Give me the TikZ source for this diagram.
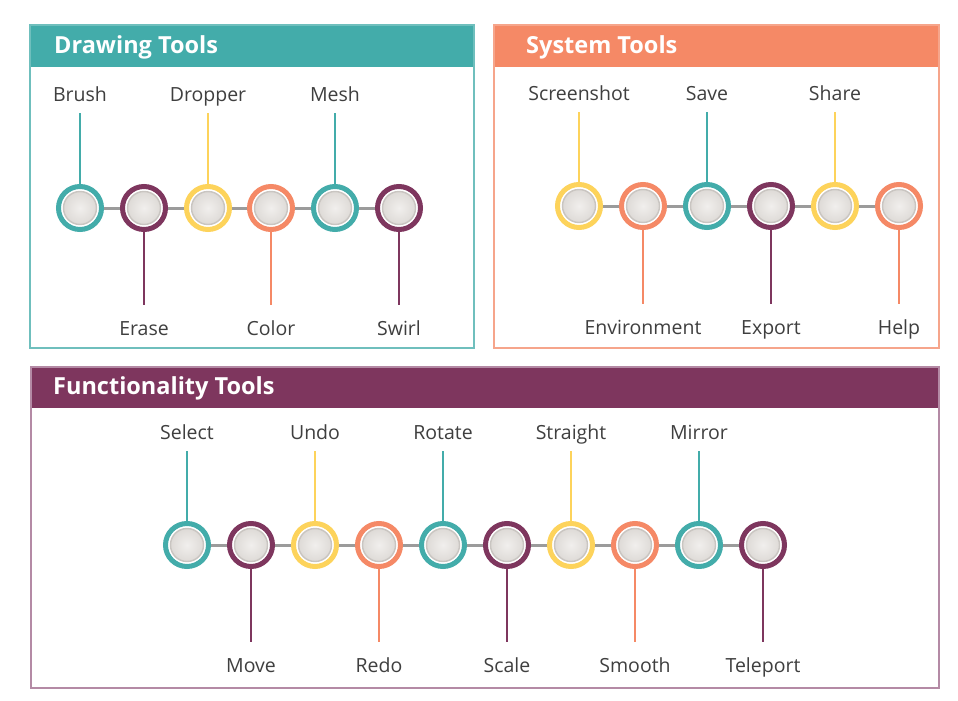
\documentclass[tikz,border=0pt]{standalone}
\usepackage{fontspec}
\setmainfont{Open Sans}
\definecolor{cteal}{HTML}{43ACAA}
\definecolor{cpurp}{HTML}{7E365E}
\definecolor{cyell}{HTML}{FDD35B}
\definecolor{ccoral}{HTML}{F58966}
\definecolor{cgray}{HTML}{9B9B9B}
\definecolor{ctext}{HTML}{3F3F3F}
\definecolor{bteal}{HTML}{6FBFBD}
\definecolor{bcoral}{HTML}{F6A58B}
\definecolor{bpurp}{HTML}{B48AA5}
\definecolor{inrim}{HTML}{C9C5C1}
\definecolor{inmid}{HTML}{F1EFED}
\definecolor{inout}{HTML}{D8D4D0}
\tikzset{
  tool/.style={circle, minimum size=43pt, inner sep=0pt, draw=#1, line width=5pt, fill=white,
    path picture={
      \shade[inner color=inmid, outer color=inout] (path picture bounding box.center) circle (17pt);
      \draw[inrim, line width=1.4pt] (path picture bounding box.center) circle (16.5pt);
    }},
  lab/.style={inner sep=0pt, text height=14pt, text depth=0pt, text=ctext, font=\fontsize{19.5}{22}\selectfont},
  head/.style={inner sep=0pt, anchor=west, text=white, font=\bfseries\fontsize{23.5}{26}\selectfont},
  stemup/.style={draw=#1, line width=2.8pt, shorten >=12pt},
  stemdn/.style={draw=#1, line width=2.8pt, shorten >=16pt},
  joinline/.style={draw=cgray, line width=3pt},
  panel/.style={draw=#1, line width=1.5pt}
}
\begin{document}
\begin{tikzpicture}[x=1pt,y=-1pt]
\useasboundingbox (0,0) rectangle (958,701);
\fill[white] (0,0) rectangle (958,701);
% panels
\fill[cteal] (30,25) rectangle (474,67);
\draw[panel=bteal] (30,25) rectangle (474,348);
\node[head] (hd) at (54,47) {Drawing Tools};
\fill[ccoral] (494,25) rectangle (939,67);
\draw[panel=bcoral] (494,25) rectangle (939,348);
\node[head] (hs) at (526,47) {System Tools};
\fill[cpurp] (31,367) rectangle (939,408);
\draw[panel=bpurp] (31,367) rectangle (939,688);
\node[head] (hf) at (53,388) {Functionality Tools};
% Drawing tools
\node[tool=cteal] (d1) at (80,208) {};
\node[tool=cpurp] (d2) at (144,208) {};
\node[tool=cyell] (d3) at (208,208) {};
\node[tool=ccoral] (d4) at (271,208) {};
\node[tool=cteal] (d5) at (335,208) {};
\node[tool=cpurp] (d6) at (399,208) {};
\draw[joinline] (d1) -- (d2) (d2) -- (d3) (d3) -- (d4) (d4) -- (d5) (d5) -- (d6);
\node[lab] (ld1) at (80,94) {Brush};
\node[lab] (ld2) at (144,328) {Erase};
\node[lab] (ld3) at (208,94) {Dropper};
\node[lab] (ld4) at (271,328) {Color};
\node[lab] (ld5) at (335,94) {Mesh};
\node[lab] (ld6) at (399,328) {Swirl};
\draw[stemup=cteal] (d1) -- (ld1);
\draw[stemdn=cpurp] (d2) -- (ld2);
\draw[stemup=cyell] (d3) -- (ld3);
\draw[stemdn=ccoral] (d4) -- (ld4);
\draw[stemup=cteal] (d5) -- (ld5);
\draw[stemdn=cpurp] (d6) -- (ld6);
% System tools
\node[tool=cyell] (s1) at (579,206) {};
\node[tool=ccoral] (s2) at (643,206) {};
\node[tool=cteal] (s3) at (707,206) {};
\node[tool=cpurp] (s4) at (771,206) {};
\node[tool=cyell] (s5) at (835,206) {};
\node[tool=ccoral] (s6) at (899,206) {};
\draw[joinline] (s1) -- (s2) (s2) -- (s3) (s3) -- (s4) (s4) -- (s5) (s5) -- (s6);
\node[lab] (ls1) at (579,93) {Screenshot};
\node[lab] (ls2) at (643,327) {Environment};
\node[lab] (ls3) at (707,93) {Save};
\node[lab] (ls4) at (771,327) {Export};
\node[lab] (ls5) at (835,93) {Share};
\node[lab] (ls6) at (899,327) {Help};
\draw[stemup=cyell] (s1) -- (ls1);
\draw[stemdn=ccoral] (s2) -- (ls2);
\draw[stemup=cteal] (s3) -- (ls3);
\draw[stemdn=cpurp] (s4) -- (ls4);
\draw[stemup=cyell] (s5) -- (ls5);
\draw[stemdn=ccoral] (s6) -- (ls6);
% Functionality tools
\node[tool=cteal] (f1) at (187,545) {};
\node[tool=cpurp] (f2) at (251,545) {};
\node[tool=cyell] (f3) at (315,545) {};
\node[tool=ccoral] (f4) at (379,545) {};
\node[tool=cteal] (f5) at (443,545) {};
\node[tool=cpurp] (f6) at (507,545) {};
\node[tool=cyell] (f7) at (571,545) {};
\node[tool=ccoral] (f8) at (635,545) {};
\node[tool=cteal] (f9) at (699,545) {};
\node[tool=cpurp] (f10) at (763,545) {};
\draw[joinline] (f1) -- (f2) (f2) -- (f3) (f3) -- (f4) (f4) -- (f5) (f5) -- (f6)
  (f6) -- (f7) (f7) -- (f8) (f8) -- (f9) (f9) -- (f10);
\node[lab] (lf1) at (187,432) {Select};
\node[lab] (lf2) at (251,665) {Move};
\node[lab] (lf3) at (315,432) {Undo};
\node[lab] (lf4) at (379,665) {Redo};
\node[lab] (lf5) at (443,432) {Rotate};
\node[lab] (lf6) at (507,665) {Scale};
\node[lab] (lf7) at (571,432) {Straight};
\node[lab] (lf8) at (635,665) {Smooth};
\node[lab] (lf9) at (699,432) {Mirror};
\node[lab] (lf10) at (763,665) {Teleport};
\draw[stemup=cteal] (f1) -- (lf1);
\draw[stemdn=cpurp] (f2) -- (lf2);
\draw[stemup=cyell] (f3) -- (lf3);
\draw[stemdn=ccoral] (f4) -- (lf4);
\draw[stemup=cteal] (f5) -- (lf5);
\draw[stemdn=cpurp] (f6) -- (lf6);
\draw[stemup=cyell] (f7) -- (lf7);
\draw[stemdn=ccoral] (f8) -- (lf8);
\draw[stemup=cteal] (f9) -- (lf9);
\draw[stemdn=cpurp] (f10) -- (lf10);
\end{tikzpicture}
\end{document}
